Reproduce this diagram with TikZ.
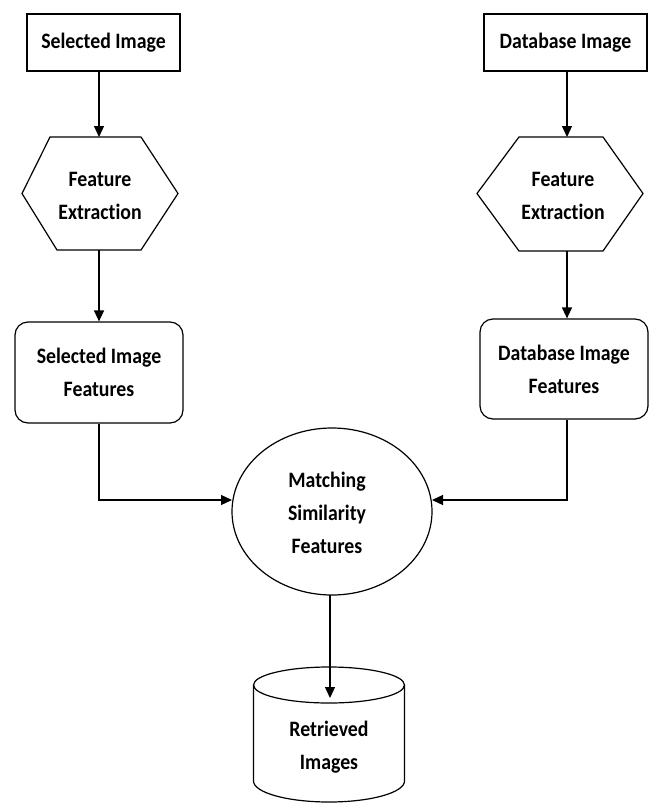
\documentclass[tikz,border=0pt]{standalone}
\usepackage{fontspec}
\setmainfont{Carlito}[Ligatures=NoCommon,FakeStretch=0.9]
\usetikzlibrary{arrows.meta}
\begin{document}
\begin{tikzpicture}[x=1pt,y=-1pt,
  every node/.style={font=\bfseries\fontsize{22}{33}\selectfont, align=center, inner sep=0pt},
  shp/.style={draw=black, line width=1.2pt},
  lnk/.style={draw=black, line width=1.2pt, -{Triangle[length=11pt,width=10pt]}}]
\useasboundingbox (0,0) rectangle (649,803);
\clip (0,0) rectangle (649,803);
% top boxes
\node[shp, minimum width=153pt, minimum height=57pt] (si) at (103.5,42.5) {Selected Image};
\node[shp, minimum width=163pt, minimum height=57pt] (di) at (565.5,42.5) {Database Image};
% hexagons
\draw[shp] (22,193.5) -- (50,137) -- (141,137) -- (178,193.5) -- (141,250) -- (57,250) -- cycle;
\node (fe1) at (100,196) {Feature\\Extraction};
\coordinate (fe1t) at (99,137);
\coordinate (fe1b) at (99,250);
\draw[shp] (477,193.5) -- (519,137) -- (603,137) -- (643,193.5) -- (603,251) -- (519,251) -- cycle;
\node (fe2) at (563,196) {Feature\\Extraction};
\coordinate (fe2t) at (567,137);
\coordinate (fe2b) at (567,251);
% feature boxes
\node[shp, rounded corners=13pt, minimum width=168pt, minimum height=101pt] (sf) at (99,372.5) {Selected Image\\Features};
\node[shp, rounded corners=13pt, minimum width=168pt, minimum height=100pt] (df) at (564,369) {Database Image\\Features};
% ellipse
\draw[shp] (332,511.5) ellipse (100 and 83.5);
\node (ms) at (327,513) {Matching\\Similarity\\Features};
\coordinate (msl) at (232,500);
\coordinate (msr) at (432,500);
\coordinate (msb) at (330,595);
% cylinder
\draw[shp] (253.5,685) -- (253.5,781) arc[start angle=180,end angle=0,x radius=75.5,y radius=21] -- (404.5,685);
\draw[shp] (329,685) ellipse (75.5 and 18);
\node (ri) at (329,747) {Retrieved\\Images};
\coordinate (rit) at (330,698);
% connectors
\draw[lnk] (si.south -| fe1t) -- (fe1t);
\draw[lnk] (fe1b) -- (fe1b |- sf.north);
\draw[lnk] (di.south -| fe2t) -- (fe2t);
\draw[lnk] (fe2b) -- (fe2b |- df.north);
\draw[lnk] (sf.south) |- (msl);
\draw[lnk] (df.south -| fe2t) |- (msr);
\draw[lnk] (msb) -- (rit);
\end{tikzpicture}
\end{document}
